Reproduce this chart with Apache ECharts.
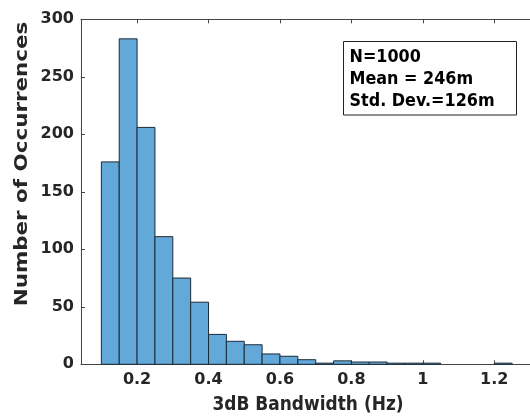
<!DOCTYPE html>
<html><head><meta charset="utf-8">
<script src="https://cdn.jsdelivr.net/npm/echarts@6/dist/echarts.min.js"></script>
<style>html,body{margin:0;padding:0;background:#fff}#c{width:530px;height:418px}</style>
</head><body><div id="c"></div>
<script>
// Histogram data: bin start (Hz), bin width, counts
const binStarts = [0.10,0.15,0.20,0.25,0.30,0.35,0.40,0.45,0.50,0.55,0.60,0.65,0.70,0.75,0.80,0.85,0.90,0.95,1.00,1.05,1.10,1.15,1.20];
const binWidth = 0.05;
const counts = [176,283,206,111,75,54,26,20,17,9,7,4,1,3,2,2,1,1,1,0,0,0,1];
const xTicks = [0.2,0.4,0.6,0.8,1.0,1.2];
const yTicks = [0,50,100,150,200,250,300];
const statLines = ['N=1000','Mean = 246m','Std. Dev.=126m'];
const xTitle = '3dB Bandwidth (Hz)';
const yTitle = 'Number of Occurrences';

const FONT = 'DejaVu Sans';
const TXT = '#262626';
const AX = '#444444';

const data = binStarts.map((s,i)=>[s, s+binWidth, counts[i]]);

const chart = echarts.init(document.getElementById('c'), null, {renderer:'canvas'});
const boxTexts = statLines.map((t,i)=>({
  type:'text', x:349.5, y:57.5 + i*21.7, scaleY:1.14, z:110,
  style:{text:t, x:0, y:0, fill:'#000', font:'bold 16px "'+FONT+'"', textVerticalAlign:'middle', textAlign:'left'}
}));
chart.setOption({
  animation:false,
  backgroundColor:'#fff',
  grid:{left:81, right:-1.6, top:19.3, bottom:53.7, containLabel:false},
  xAxis:[{
    type:'value', min:0.043, max:1.3, position:'bottom',
    axisLine:{show:true, onZero:false, lineStyle:{color:AX, width:1}},
    axisTick:{show:true, inside:true, length:4, customValues:xTicks, lineStyle:{color:AX}},
    axisLabel:{show:true, customValues:xTicks, margin:8, color:TXT, fontFamily:FONT, fontWeight:'bold', fontSize:16,
      formatter:v=>String(Math.round(v*10)/10)},
    splitLine:{show:false}
  },{
    type:'value', min:0.043, max:1.3, position:'top',
    axisLine:{show:true, onZero:false, lineStyle:{color:AX, width:1}},
    axisTick:{show:true, inside:true, length:4, customValues:xTicks, lineStyle:{color:AX}},
    axisLabel:{show:false},
    splitLine:{show:false}
  }],
  yAxis:{
    type:'value', min:0, max:300, interval:50,
    axisLine:{show:true, lineStyle:{color:AX, width:1}},
    axisTick:{show:true, inside:true, length:4, lineStyle:{color:AX}},
    axisLabel:{color:TXT, fontFamily:FONT, fontWeight:'bold', fontSize:16, margin:7,
      formatter:v=>String(v)},
    splitLine:{show:false}
  },
  series:[{
    type:'custom', xAxisIndex:0, yAxisIndex:0,
    data:data,
    encode:{x:[0,1], y:2},
    renderItem:(params, api)=>{
      const x0 = api.value(0), x1 = api.value(1), h = api.value(2);
      if (!(h > 0)) return null;
      const p0 = api.coord([x0, 0]);
      const p1 = api.coord([x1, h]);
      return {type:'rect',
        shape:{x:p0[0], y:p1[1], width:p1[0]-p0[0], height:p0[1]-p1[1]},
        style:{fill:'#62a8d8', stroke:'#1c2a36', lineWidth:1}};
    }
  }],
  graphic:[
    {type:'rect', shape:{x:343.5, y:41.5, width:173, height:73.5},
      style:{fill:'#fff', stroke:'#222', lineWidth:1}, z:100},
    ...boxTexts,
    {type:'text', x:308, y:405, scaleY:1.16,
      style:{text:xTitle, x:0, y:0, fill:TXT, font:'bold 17px "'+FONT+'"', textAlign:'center', textVerticalAlign:'middle'}},
    {type:'text', x:23, y:164, rotation:Math.PI/2, scaleX:1.26,
      style:{text:yTitle, x:0, y:0, fill:TXT, font:'bold 17px "'+FONT+'"', textAlign:'center', textVerticalAlign:'middle'}}
  ]
});
</script>
</body></html>
